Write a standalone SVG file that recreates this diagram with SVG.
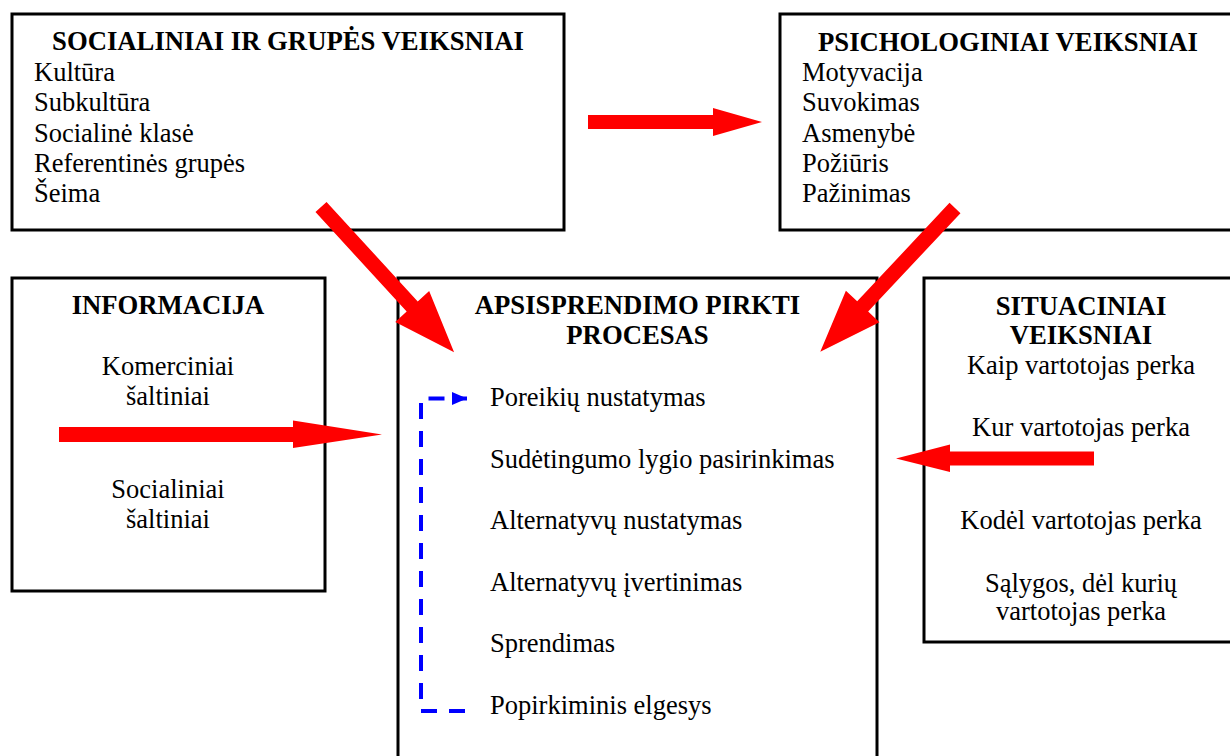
<svg xmlns="http://www.w3.org/2000/svg" width="1230" height="756" viewBox="0 0 1230 756">
  <style>
    .box { fill: #ffffff; stroke: #000000; stroke-width: 3; }
    .title { font-family: "Liberation Serif", "Times New Roman", serif; font-size: 26.7px; font-weight: bold; fill: #000000; }
    .item { font-family: "Liberation Serif", "Times New Roman", serif; font-size: 26.5px; fill: #000000; }
    .mid { text-anchor: middle; }
    .arrow { fill: #ff0000; stroke: none; }
    .loop { fill: none; stroke: #0000ff; stroke-width: 4; stroke-dasharray: 16 12; }
  </style>
  <defs>
    <!-- broad red arrow pointing along +x, tail at origin, tip at x=197 -->
    <polygon id="diag-arrow" points="0,-7.5 135,-7.5 135,-23 197,0 135,23 135,7.5 0,7.5"/>
    <marker id="blue-head" markerWidth="16" markerHeight="14" refX="15" refY="6.5" orient="auto" markerUnits="userSpaceOnUse">
      <polygon points="0,0 15,6.5 0,13" fill="#0000ff"/>
    </marker>
  </defs>

  <rect width="1230" height="756" fill="#ffffff"/>

  <!-- Social and group factors -->
  <g id="node-social">
    <rect class="box" x="12" y="14" width="552" height="216"/>
    <text class="title mid" x="288" y="50">SOCIALINIAI IR GRUPĖS VEIKSNIAI</text>
    <text class="item" x="34" y="81">Kultūra</text>
    <text class="item" x="34" y="111">Subkultūra</text>
    <text class="item" x="34" y="141.5">Socialinė klasė</text>
    <text class="item" x="34" y="171.5">Referentinės grupės</text>
    <text class="item" x="34" y="201.5">Šeima</text>
  </g>

  <!-- Psychological factors -->
  <g id="node-psych">
    <rect class="box" x="780" y="14" width="456" height="216"/>
    <text class="title mid" x="1008" y="50.5">PSICHOLOGINIAI VEIKSNIAI</text>
    <text class="item" x="802" y="81">Motyvacija</text>
    <text class="item" x="802" y="111">Suvokimas</text>
    <text class="item" x="802" y="141.5">Asmenybė</text>
    <text class="item" x="802" y="171.5">Požiūris</text>
    <text class="item" x="802" y="201.5">Pažinimas</text>
  </g>

  <!-- Information -->
  <g id="node-info">
    <rect class="box" x="12" y="278" width="313" height="313"/>
    <text class="title mid" x="168" y="314">INFORMACIJA</text>
    <text class="item mid" x="168" y="375">Komerciniai</text>
    <text class="item mid" x="168" y="405">šaltiniai</text>
    <text class="item mid" x="168" y="498">Socialiniai</text>
    <text class="item mid" x="168" y="528">šaltiniai</text>
  </g>

  <!-- Buying decision process -->
  <g id="node-process">
    <rect class="box" x="398" y="278" width="479" height="490"/>
    <text class="title mid" x="637.5" y="314">APSISPRENDIMO PIRKTI</text>
    <text class="title mid" x="637.5" y="344">PROCESAS</text>
    <text class="item" x="490" y="406">Poreikių nustatymas</text>
    <text class="item" x="490" y="467.5">Sudėtingumo lygio pasirinkimas</text>
    <text class="item" x="490" y="529">Alternatyvų nustatymas</text>
    <text class="item" x="490" y="590.5">Alternatyvų įvertinimas</text>
    <text class="item" x="490" y="652">Sprendimas</text>
    <text class="item" x="490" y="713.5">Popirkiminis elgesys</text>
  </g>

  <!-- Situational factors -->
  <g id="node-situation">
    <rect class="box" x="924" y="278" width="315" height="364"/>
    <text class="title mid" x="1081" y="315">SITUACINIAI</text>
    <text class="title mid" x="1081" y="344">VEIKSNIAI</text>
    <text class="item mid" x="1081" y="373.5">Kaip vartotojas perka</text>
    <text class="item mid" x="1081" y="436">Kur vartotojas perka</text>
    <text class="item mid" x="1081" y="528.5">Kodėl vartotojas perka</text>
    <text class="item mid" x="1081" y="591.5">Sąlygos, dėl kurių</text>
    <text class="item mid" x="1081" y="620">vartotojas perka</text>
  </g>

  <!-- Connectors -->
  <g id="connectors">
    <!-- social -> psychological -->
    <polygon class="arrow" points="588,115 713,115 713,108 762,122 713,136 713,129 588,129"/>
    <!-- social -> process -->
    <use href="#diag-arrow" class="arrow" transform="translate(321,207) rotate(47.5)"/>
    <!-- psychological -> process -->
    <use href="#diag-arrow" class="arrow" transform="translate(955,208) rotate(133.15)"/>
    <!-- information -> process -->
    <polygon class="arrow" points="59,427 293,427 293,420.5 382,434.5 293,448 293,442 59,442"/>
    <!-- situational -> process -->
    <polygon class="arrow" points="1094,451.5 950,451.5 950,444.5 896,458.5 950,472 950,465.5 1094,465.5"/>
    <!-- feedback loop: post-purchase behaviour back to need recognition -->
    <path class="loop" d="M465,711 H421 V398.5 H467" marker-end="url(#blue-head)"/>
  </g>
</svg>
